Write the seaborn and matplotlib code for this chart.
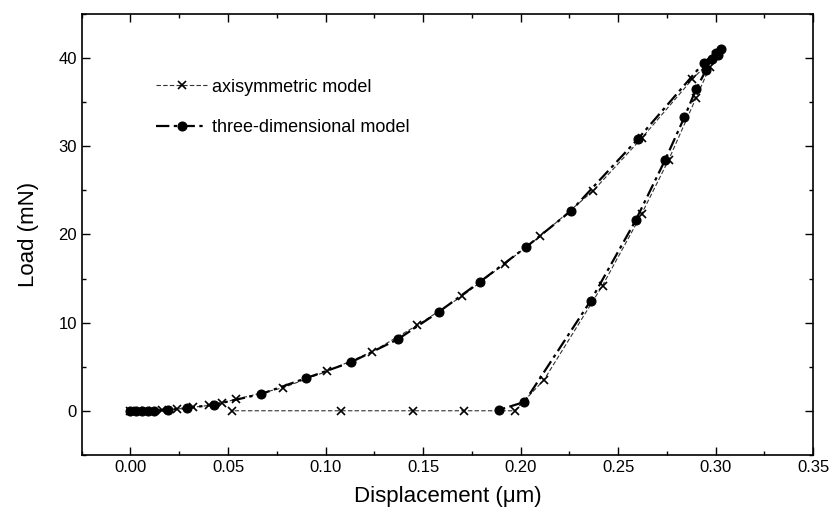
import seaborn as sns
import matplotlib.pyplot as plt
import pandas as pd
from matplotlib.ticker import MultipleLocator

# axisymmetric model: loading, unloading, then zero-load points
axi_disp = [0.000, 0.004, 0.008, 0.016, 0.024, 0.032, 0.040, 0.047, 0.054, 0.078,
            0.101, 0.124, 0.147, 0.170, 0.192, 0.210, 0.237, 0.262, 0.288, 0.300,
            0.297, 0.290, 0.276, 0.262, 0.242, 0.212, 0.197, 0.171, 0.145, 0.108, 0.052]
axi_load = [0.0, 0.0, 0.0, 0.1, 0.2, 0.4, 0.6, 0.9, 1.3, 2.6,
            4.5, 6.7, 9.7, 13.0, 16.7, 19.8, 24.9, 30.9, 37.6, 40.3,
            39.0, 35.5, 28.5, 22.3, 14.2, 3.5, 0.0, 0.0, 0.0, 0.0, 0.0]

# three-dimensional model: loading then unloading
td_disp = [0.000, 0.003, 0.006, 0.009, 0.012, 0.019, 0.029, 0.043, 0.067, 0.090,
           0.113, 0.137, 0.158, 0.179, 0.203, 0.226, 0.260, 0.294, 0.300, 0.303,
           0.301, 0.298, 0.295, 0.290, 0.284, 0.274, 0.259, 0.236, 0.202, 0.189]
td_load = [0.0, 0.0, 0.0, 0.0, 0.0, 0.1, 0.3, 0.7, 1.9, 3.7,
           5.5, 8.1, 11.2, 14.6, 18.6, 22.7, 30.8, 39.5, 40.6, 41.0,
           40.4, 39.9, 38.6, 36.5, 33.3, 28.4, 21.6, 12.5, 1.0, 0.1]

axi = pd.DataFrame({"disp": axi_disp, "load": axi_load})
td = pd.DataFrame({"disp": td_disp, "load": td_load})

sns.set_style("ticks")
plt.rcParams['font.family'] = ['Liberation Sans', 'DejaVu Sans']
plt.rcParams['text.color'] = 'black'
plt.rcParams['axes.labelcolor'] = 'black'
plt.rcParams['xtick.color'] = 'black'
plt.rcParams['ytick.color'] = 'black'

fig = plt.figure(figsize=(8.34, 5.21), dpi=100)
ax = fig.add_axes([0.098, 0.127, 0.877, 0.846])

sns.lineplot(data=axi, x="disp", y="load", sort=False, estimator=None, ax=ax,
             color="#333333", linewidth=0.8, linestyle=(0, (4, 2)),
             marker="x", markersize=6, markeredgewidth=1.2, markeredgecolor="black",
             label="axisymmetric model")
sns.lineplot(data=td, x="disp", y="load", sort=False, estimator=None, ax=ax,
             color="black", linewidth=1.6, linestyle=(0, (6, 2, 1.5, 2)),
             marker="o", markersize=6.5, markeredgecolor="black",
             label="three-dimensional model")

ax.set_xlim(-0.025, 0.35)
ax.set_ylim(-5, 45)
ax.xaxis.set_major_locator(MultipleLocator(0.05))
ax.xaxis.set_minor_locator(MultipleLocator(0.025))
ax.yaxis.set_major_locator(MultipleLocator(10))
ax.yaxis.set_minor_locator(MultipleLocator(5))
ax.xaxis.set_major_formatter(plt.FormatStrFormatter("%.2f"))

ax.tick_params(which="both", direction="in", top=True, right=True, labelsize=12, width=1.0)
ax.tick_params(which="major", length=6)
ax.tick_params(which="minor", length=3)
for s in ax.spines.values():
    s.set_linewidth(1.2)
    s.set_color("black")

ax.set_xlabel("Displacement (\u03bcm)", fontsize=16, labelpad=8)
ax.set_ylabel("Load (mN)", fontsize=16, labelpad=14)

ax.legend(loc="upper left", bbox_to_anchor=(0.08, 0.89), frameon=False,
          fontsize=13, labelspacing=1.3, handlelength=2.8, handletextpad=0.3)

fig.savefig("out.png", dpi=100)
